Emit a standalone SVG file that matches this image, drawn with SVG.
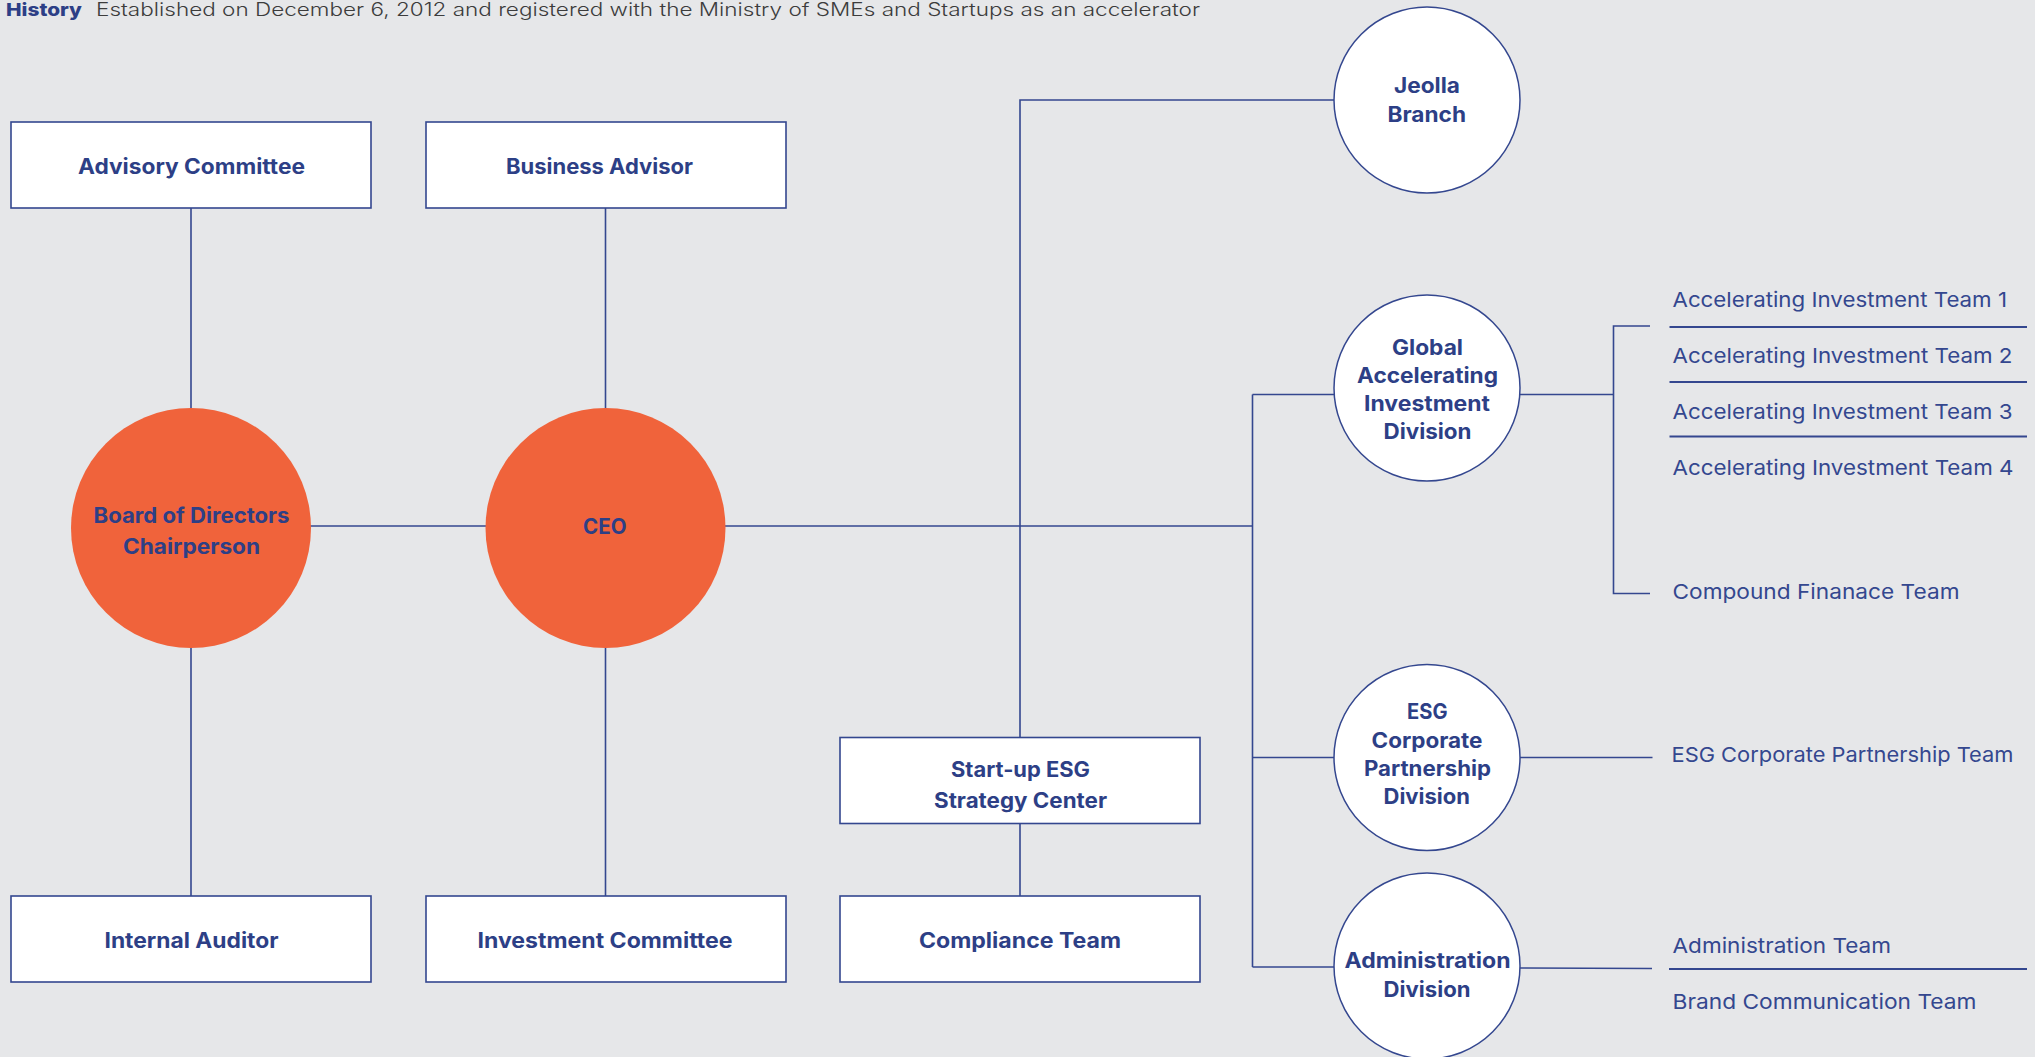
<svg xmlns="http://www.w3.org/2000/svg" width="2035" height="1057" viewBox="0 0 2035 1057">
<style>
.bg{fill:#e6e7e9}
.box{fill:#ffffff;stroke:#34478f;stroke-width:1.6}
.ring{fill:#ffffff;stroke:#34478f;stroke-width:1.5}
.hub{fill:#f0633b}
.ln{fill:none;stroke:#34478f;stroke-width:1.6}
.sep{fill:none;stroke:#34478f;stroke-width:1.8}
.nt{font-family:Inter,"Liberation Sans",sans-serif;font-weight:700;font-size:21px;fill:#2d3f86}
.tm{font-family:Inter,"Liberation Sans",sans-serif;font-weight:400;font-size:20.5px;fill:#34478f}
.hd{font-family:Inter,"Liberation Sans",sans-serif;font-size:18px}
</style>
<rect class="bg" x="0" y="0" width="2035" height="1057"/>

<g id="header">
<text class="hd" x="6" y="16" textLength="76" lengthAdjust="spacingAndGlyphs" font-weight="800" fill="#2d3f86">History</text>
<text class="hd" x="96" y="16" textLength="1104" lengthAdjust="spacingAndGlyphs" font-weight="300" fill="#3c3c3c">Established on December 6, 2012 and registered with the Ministry of SMEs and Startups as an accelerator</text>
</g>

<g id="connectors">
<line class="ln" x1="191" y1="208" x2="191" y2="409"/>
<line class="ln" x1="191" y1="647" x2="191" y2="896"/>
<line class="ln" x1="605.5" y1="208" x2="605.5" y2="409"/>
<line class="ln" x1="605.5" y1="647" x2="605.5" y2="896"/>
<line class="ln" x1="310" y1="526" x2="486" y2="526"/>
<line class="ln" x1="725" y1="526" x2="1253" y2="526"/>
<polyline class="ln" points="1020,737 1020,100 1334,100"/>
<line class="ln" x1="1020" y1="823" x2="1020" y2="896"/>
<line class="ln" x1="1252.5" y1="394.5" x2="1252.5" y2="967"/>
<line class="ln" x1="1252.5" y1="394.5" x2="1334" y2="394.5"/>
<line class="ln" x1="1252.5" y1="757.5" x2="1334" y2="757.5"/>
<line class="ln" x1="1252.5" y1="967" x2="1334" y2="967"/>
<line class="ln" x1="1520" y1="394.5" x2="1613.5" y2="394.5"/>
<polyline class="ln" points="1650,326 1613.5,326 1613.5,593.5 1650,593.5"/>
<line class="ln" x1="1520" y1="757.5" x2="1652.5" y2="757.5"/>
<line class="ln" x1="1520" y1="968" x2="1652" y2="968.5"/>
</g>

<g id="advisory-committee">
<rect class="box" x="11" y="122" width="360" height="86"/>
<text class="nt" x="78" y="174" textLength="227" lengthAdjust="spacingAndGlyphs">Advisory Committee</text>
</g>
<g id="business-advisor">
<rect class="box" x="426" y="122" width="360" height="86"/>
<text class="nt" x="506" y="174" textLength="187" lengthAdjust="spacingAndGlyphs">Business Advisor</text>
</g>
<g id="board">
<circle class="hub" cx="191" cy="528" r="120"/>
<text class="nt" x="93.5" y="523" textLength="196" lengthAdjust="spacingAndGlyphs">Board of Directors</text>
<text class="nt" x="123" y="554" textLength="137" lengthAdjust="spacingAndGlyphs">Chairperson</text>
</g>
<g id="ceo">
<circle class="hub" cx="605.5" cy="528" r="120"/>
<text class="nt" x="583" y="534" textLength="43.5" lengthAdjust="spacingAndGlyphs">CEO</text>
</g>
<g id="internal-auditor">
<rect class="box" x="11" y="896" width="360" height="86"/>
<text class="nt" x="104.5" y="948" textLength="174" lengthAdjust="spacingAndGlyphs">Internal Auditor</text>
</g>
<g id="investment-committee">
<rect class="box" x="426" y="896" width="360" height="86"/>
<text class="nt" x="477.5" y="948" textLength="255" lengthAdjust="spacingAndGlyphs">Investment Committee</text>
</g>
<g id="startup-esg">
<rect class="box" x="840" y="737.5" width="360" height="86"/>
<text class="nt" x="951" y="777" textLength="139" lengthAdjust="spacingAndGlyphs">Start-up ESG</text>
<text class="nt" x="934" y="808" textLength="173" lengthAdjust="spacingAndGlyphs">Strategy Center</text>
</g>
<g id="compliance-team">
<rect class="box" x="840" y="896" width="360" height="86"/>
<text class="nt" x="919" y="948" textLength="202" lengthAdjust="spacingAndGlyphs">Compliance Team</text>
</g>
<g id="jeolla">
<circle class="ring" cx="1427" cy="100" r="93"/>
<text class="nt" x="1394" y="93" textLength="66" lengthAdjust="spacingAndGlyphs">Jeolla</text>
<text class="nt" x="1387.5" y="121.5" textLength="78.5" lengthAdjust="spacingAndGlyphs">Branch</text>
</g>
<g id="gaid">
<circle class="ring" cx="1427" cy="388" r="93"/>
<text class="nt" x="1392" y="355" textLength="71" lengthAdjust="spacingAndGlyphs">Global</text>
<text class="nt" x="1357" y="383" textLength="141" lengthAdjust="spacingAndGlyphs">Accelerating</text>
<text class="nt" x="1364" y="411" textLength="126" lengthAdjust="spacingAndGlyphs">Investment</text>
<text class="nt" x="1383.5" y="439" textLength="88" lengthAdjust="spacingAndGlyphs">Division</text>
</g>
<g id="esg-division">
<circle class="ring" cx="1427" cy="757.5" r="93"/>
<text class="nt" x="1407" y="719" textLength="40.5" lengthAdjust="spacingAndGlyphs">ESG</text>
<text class="nt" x="1371.5" y="747.5" textLength="111" lengthAdjust="spacingAndGlyphs">Corporate</text>
<text class="nt" x="1364" y="776" textLength="127" lengthAdjust="spacingAndGlyphs">Partnership</text>
<text class="nt" x="1383.5" y="804" textLength="86.5" lengthAdjust="spacingAndGlyphs">Division</text>
</g>
<g id="admin-division">
<circle class="ring" cx="1427" cy="966" r="93"/>
<text class="nt" x="1344.5" y="968" textLength="166" lengthAdjust="spacingAndGlyphs">Administration</text>
<text class="nt" x="1383.5" y="997" textLength="87" lengthAdjust="spacingAndGlyphs">Division</text>
</g>

<g id="gaid-teams">
<text class="tm" x="1672.5" y="306.5" textLength="334.5" lengthAdjust="spacingAndGlyphs">Accelerating Investment Team 1</text>
<line class="sep" x1="1669.5" y1="327" x2="2027" y2="327"/>
<text class="tm" x="1672.5" y="362.5" textLength="340" lengthAdjust="spacingAndGlyphs">Accelerating Investment Team 2</text>
<line class="sep" x1="1669.5" y1="382" x2="2027" y2="382"/>
<text class="tm" x="1672.5" y="418.5" textLength="340" lengthAdjust="spacingAndGlyphs">Accelerating Investment Team 3</text>
<line class="sep" x1="1669.5" y1="436.5" x2="2027" y2="436.5"/>
<text class="tm" x="1672.5" y="475" textLength="341" lengthAdjust="spacingAndGlyphs">Accelerating Investment Team 4</text>
<text class="tm" x="1672.5" y="598.5" textLength="287" lengthAdjust="spacingAndGlyphs">Compound Finanace Team</text>
</g>
<g id="esg-teams">
<text class="tm" x="1671.5" y="761.5" textLength="342" lengthAdjust="spacingAndGlyphs">ESG Corporate Partnership Team</text>
</g>
<g id="admin-teams">
<text class="tm" x="1672.5" y="952.5" textLength="218.5" lengthAdjust="spacingAndGlyphs">Administration Team</text>
<line class="sep" x1="1669" y1="969" x2="2027" y2="969"/>
<text class="tm" x="1672.5" y="1008.5" textLength="304" lengthAdjust="spacingAndGlyphs">Brand Communication Team</text>
</g>
</svg>
